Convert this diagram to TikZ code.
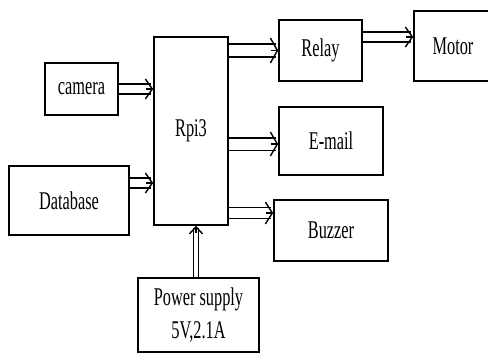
\documentclass[tikz,border=0pt]{standalone}
\usepackage{fontspec}
\setmainfont{Liberation Serif}
\usetikzlibrary{arrows.meta,calc}
\newcommand{\sq}[1]{\scalebox{0.64}[1]{#1}}
\tikzset{
  blk/.style={draw, line width=1.6pt, inner sep=0pt, align=center,
    font=\fontsize{25.5}{33}\selectfont},
  shaft/.style={double, line width=1.4pt, double distance=#1, shorten >=2.5pt},
  head/.style={line width=1.4pt, -{Straight Barb[length=7pt, width=#1]}}
}
% #1 gap between the two lines, #2 head width, #3 start, #4 end
\newcommand{\darr}[4]{%
  \draw[shaft=#1] (#3) -- (#4);
  \draw[head=#2] ($(#4)!7pt!(#3)$) -- (#4);
}
\begin{document}
\begin{tikzpicture}[x=1pt,y=-1pt]
\useasboundingbox (0,0) rectangle (488,356);
\node[blk, minimum width=73pt, minimum height=52pt] (cam) at (81.5,89) {\sq{camera}};
\node[blk, minimum width=120pt, minimum height=69pt] (db) at (69,200.5) {\sq{Database}};
\node[blk, minimum width=74pt, minimum height=188pt] (rpi) at (191,131) {\sq{Rpi3}};
\node[blk, minimum width=83pt, minimum height=61pt] (relay) at (320.5,50.5) {\sq{Relay}};
\node[blk, minimum width=78pt, minimum height=70pt] (motor) at (453,46) {\sq{Motor}};
\node[blk, minimum width=104pt, minimum height=68pt] (email) at (331,141) {\sq{E-mail}};
\node[blk, minimum width=114pt, minimum height=61pt] (buzz) at (331,230.5) {\sq{Buzzer}};
\node[blk, minimum width=121pt, minimum height=74pt] (pwr) at (198.5,315) {\sq{Power supply}\\\sq{5V,2.1A}};
\coordinate (c1) at (cam.east);
\coordinate (c2) at (cam.east -| rpi.west);
\coordinate (d1) at ([yshift=17.5pt]db.east);
\coordinate (d2) at ([yshift=17.5pt]db.east -| rpi.west);
\coordinate (r1) at (rpi.east |- relay.west);
\coordinate (r2) at (relay.west);
\coordinate (m1) at ([yshift=13.5pt]relay.east);
\coordinate (m2) at ([yshift=13.5pt]relay.east -| motor.west);
\coordinate (e1) at ([yshift=-3pt]rpi.east |- email.west);
\coordinate (e2) at ([yshift=-3pt]email.west);
\coordinate (b1) at ([yshift=17.5pt]rpi.east |- buzz.west);
\coordinate (b2) at ([yshift=17.5pt]buzz.west);
\coordinate (p1) at ([xshift=-2.5pt]pwr.north);
\coordinate (p2) at ([xshift=-2.5pt]pwr.north |- rpi.south);
\darr{8.5pt}{20pt}{c1}{c2}
\darr{8.5pt}{20pt}{d1}{d2}
\darr{11.5pt}{25pt}{r1}{r2}
\darr{8.5pt}{20pt}{m1}{m2}
\darr{11pt}{24pt}{e1}{e2}
\darr{10pt}{22pt}{b1}{b2}
\darr{4pt}{13pt}{p1}{p2}
\end{tikzpicture}
\end{document}
